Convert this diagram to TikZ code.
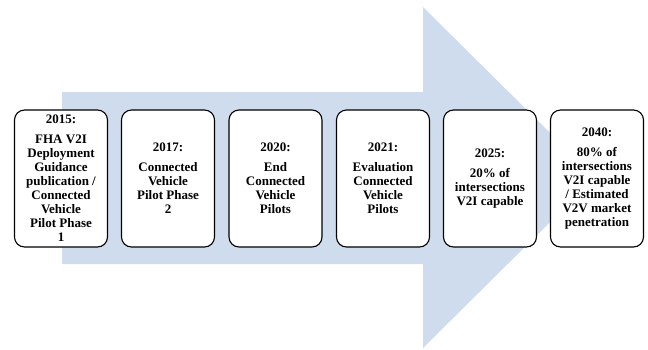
\documentclass[tikz,border=0pt]{standalone}
\usepackage{fontspec}
\setmainfont{Liberation Serif}
\definecolor{arrowblue}{RGB}{207,220,238}

\begin{document}
\begin{tikzpicture}[
            x = 1pt, y = -1pt, % pixel-like units, y going down
            every node/.style = {font=\bfseries\fontsize{13}{14}\selectfont}
        ]

        \tikzstyle{milestone}=[
            draw = black,
            line width = 1.1pt,
            fill = white,
            rounded corners = 10pt,
            align = center,
            minimum width = 93pt,
            minimum height = 137pt,
            inner sep = 0pt
        ]

        \useasboundingbox (0,0) rectangle (648,349);

        % big background arrow
        \fill[arrowblue] (62,92) -- (423,92) -- (423,7) -- (595,177.5)
            -- (423,348) -- (423,264) -- (62,264) -- cycle;

        \node[milestone] (m2015) at (61,178.5)  {2015:\\[6pt]FHA V2I\\Deployment\\Guidance\\publication /\\Connected\\Vehicle\\Pilot Phase\\1};
        \node[milestone] (m2017) at (168,178.5) {2017:\\[6pt]Connected\\Vehicle\\Pilot Phase\\2};
        \node[milestone] (m2020) at (275.5,178.5) {2020:\\[6pt]End\\Connected\\Vehicle\\Pilots};
        \node[milestone] (m2021) at (383,178.5) {2021:\\[6pt]Evaluation\\Connected\\Vehicle\\Pilots};
        \node[milestone] (m2025) at (490,178.5) {2025:\\[6pt]20\% of\\intersections\\V2I capable};
        \node[milestone] (m2040) at (597,178.5) {2040:\\[6pt]80\% of\\intersections\\V2I capable\\/ Estimated\\V2V market\\penetration};

        %\draw[red, dashed] (0,178) -- (648,178);
    \end{tikzpicture}
\end{document}
